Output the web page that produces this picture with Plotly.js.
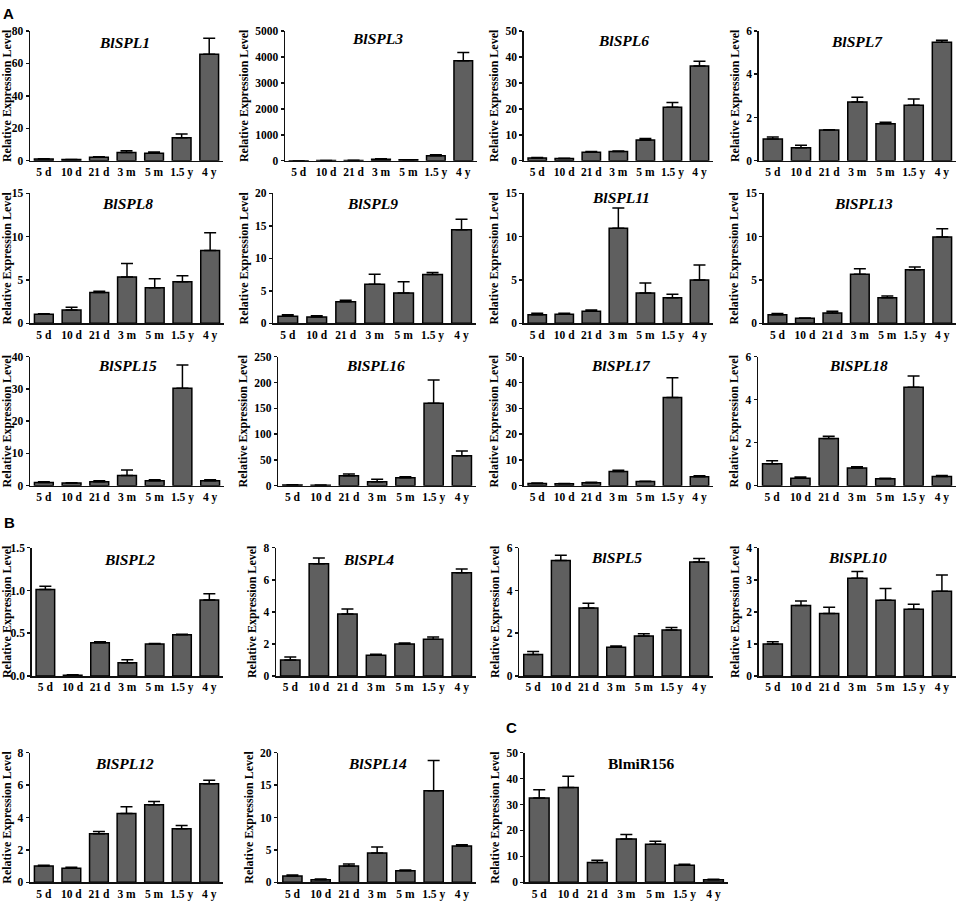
<!DOCTYPE html>
<html>
<head>
<meta charset="utf-8">
<script src="https://cdn.plot.ly/plotly-3.0.1.min.js"></script>
<style>html,body{margin:0;padding:0;background:#fff}#chart{width:964px;height:901px}</style>
</head>
<body>
<div id="chart"></div>
<script>
// ---------- DATA ----------
const categories = ["5 d", "10 d", "21 d", "3 m", "5 m", "1.5 y", "4 y"];

const BlSPL1 = [1.0, 0.7, 2.1, 5.1, 4.6, 14.2, 65.6];
const BlSPL1_err = [0.2, 0.1, 0.3, 1.0, 0.8, 2.3, 9.9];
const BlSPL3 = [1, 5, 10, 60, 35, 193, 3850];
const BlSPL3_err = [0.5, 2, 3, 12, 6, 40, 320];
const BlSPL6 = [1.0, 0.8, 3.3, 3.5, 8.0, 20.6, 36.5];
const BlSPL6_err = [0.2, 0.1, 0.2, 0.2, 0.6, 1.8, 1.8];
const BlSPL7 = [1.0, 0.6, 1.42, 2.72, 1.71, 2.57, 5.48];
const BlSPL7_err = [0.1, 0.11, 0.01, 0.22, 0.07, 0.29, 0.09];
const BlSPL8 = [1.04, 1.54, 3.54, 5.35, 4.1, 4.8, 8.4];
const BlSPL8_err = [0.06, 0.31, 0.16, 1.55, 1.05, 0.7, 2.05];
const BlSPL9 = [1.08, 0.97, 3.33, 6.0, 4.67, 7.49, 14.4];
const BlSPL9_err = [0.25, 0.21, 0.21, 1.54, 1.74, 0.31, 1.6];
const BlSPL11 = [1.0, 1.04, 1.38, 10.96, 3.5, 2.96, 5.0];
const BlSPL11_err = [0.15, 0.11, 0.16, 2.34, 1.15, 0.39, 1.73];
const BlSPL13 = [1.0, 0.58, 1.19, 5.65, 2.96, 6.19, 9.96];
const BlSPL13_err = [0.12, 0.04, 0.19, 0.65, 0.19, 0.31, 0.94];
const BlSPL15 = [1.03, 0.83, 1.24, 3.2, 1.55, 30.2, 1.55];
const BlSPL15_err = [0.2, 0.1, 0.31, 1.66, 0.31, 7.2, 0.31];
const BlSPL16 = [1.3, 1.0, 19.4, 7.8, 15.5, 160, 58.1];
const BlSPL16_err = [0.3, 0.3, 3.2, 4.5, 1.9, 45, 9.1];
const BlSPL17 = [0.9, 0.77, 1.16, 5.5, 1.67, 34.2, 3.47];
const BlSPL17_err = [0.1, 0.1, 0.15, 0.5, 0.1, 7.6, 0.39];
const BlSPL18 = [1.02, 0.35, 2.19, 0.82, 0.32, 4.58, 0.43];
const BlSPL18_err = [0.14, 0.05, 0.11, 0.06, 0.03, 0.52, 0.05];
const BlSPL2 = [1.01, 0.008, 0.39, 0.156, 0.374, 0.483, 0.888];
const BlSPL2_err = [0.04, 0.008, 0.01, 0.034, 0.005, 0.004, 0.074];
const BlSPL4 = [1.0, 7.0, 3.87, 1.29, 2.0, 2.29, 6.44];
const BlSPL4_err = [0.18, 0.36, 0.31, 0.06, 0.06, 0.14, 0.23];
const BlSPL5 = [1.01, 5.4, 3.18, 1.34, 1.87, 2.15, 5.33];
const BlSPL5_err = [0.14, 0.25, 0.22, 0.06, 0.11, 0.12, 0.17];
const BlSPL10 = [1.0, 2.2, 1.95, 3.05, 2.36, 2.08, 2.64];
const BlSPL10_err = [0.07, 0.14, 0.19, 0.21, 0.37, 0.16, 0.51];
const BlSPL12 = [1.01, 0.86, 3.0, 4.24, 4.79, 3.31, 6.09];
const BlSPL12_err = [0.04, 0.07, 0.13, 0.43, 0.19, 0.19, 0.21];
const BlSPL14 = [0.98, 0.41, 2.52, 4.52, 1.8, 14.14, 5.6];
const BlSPL14_err = [0.15, 0.1, 0.31, 0.93, 0.1, 4.66, 0.2];
const BlmiR156 = [32.5, 36.6, 7.6, 16.7, 14.65, 6.56, 1.03];
const BlmiR156_err = [3.2, 4.3, 0.9, 1.7, 1.15, 0.38, 0.1];

// y tick values (and labels)
const ticks1 = [0, 20, 40, 60, 80];
const ticks3 = [0, 1000, 2000, 3000, 4000, 5000];
const ticks6 = [0, 10, 20, 30, 40, 50];
const ticks7 = [0, 2, 4, 6];
const ticks8 = [0, 5, 10, 15];
const ticks9 = [0, 5, 10, 15, 20];
const ticks11 = [0, 5, 10, 15];
const ticks13 = [0, 5, 10, 15];
const ticks15 = [0, 10, 20, 30, 40];
const ticks16 = [0, 50, 100, 150, 200, 250];
const ticks17 = [0, 10, 20, 30, 40, 50];
const ticks18 = [0, 2, 4, 6];
const ticks2 = [0, 0.5, 1.0, 1.5];
const ticks2Text = ["0.0", "0.5", "1.0", "1.5"];
const ticks4 = [0, 2, 4, 6, 8];
const ticks5 = [0, 2, 4, 6];
const ticks10 = [0, 1, 2, 3, 4];
const ticks12 = [0, 2, 4, 6, 8];
const ticks14 = [0, 5, 10, 15, 20];
const ticks156 = [0, 10, 20, 30, 40, 50];

const yTitle = "Relative Expression Level";
const panelLetters = ["A", "B", "C"];

// ---------- PANELS (pixel boxes: left, right, top, bottom; title pos in domain fraction) ----------
const R1 = [31, 160.7], R2 = [193.3, 323.3], R3 = [356.7, 485.7], R4 = [547.7, 676], R5 = [752.7, 882.3];
const panels = [
  {name: "BlSPL1", v: BlSPL1, e: BlSPL1_err, t: ticks1, box: [30, 223, R1], tx: 0.49, ty: 0.91, it: true},
  {name: "BlSPL3", v: BlSPL3, e: BlSPL3_err, t: ticks3, box: [285, 477, R1], tx: 0.48, ty: 0.94, it: true},
  {name: "BlSPL6", v: BlSPL6, e: BlSPL6_err, t: ticks6, box: [523.7, 713, R1], tx: 0.525, ty: 0.93, it: true},
  {name: "BlSPL7", v: BlSPL7, e: BlSPL7_err, t: ticks7, box: [758.7, 956, R1], tx: 0.5, ty: 0.92, it: true},
  {name: "BlSPL8", v: BlSPL8, e: BlSPL8_err, t: ticks8, box: [30, 224, R2], tx: 0.5, ty: 0.925, it: true},
  {name: "BlSPL9", v: BlSPL9, e: BlSPL9_err, t: ticks9, box: [273.3, 476, R2], tx: 0.49, ty: 0.925, it: true},
  {name: "BlSPL11", v: BlSPL11, e: BlSPL11_err, t: ticks11, box: [523.7, 713, R2], tx: 0.515, ty: 0.968, it: true},
  {name: "BlSPL13", v: BlSPL13, e: BlSPL13_err, t: ticks13, box: [763.7, 956, R2], tx: 0.52, ty: 0.92, it: true},
  {name: "BlSPL15", v: BlSPL15, e: BlSPL15_err, t: ticks15, box: [30, 224, R3], tx: 0.5, ty: 0.928, it: true},
  {name: "BlSPL16", v: BlSPL16, e: BlSPL16_err, t: ticks16, box: [278.3, 476, R3], tx: 0.49, ty: 0.928, it: true},
  {name: "BlSPL17", v: BlSPL17, e: BlSPL17_err, t: ticks17, box: [523.7, 713, R3], tx: 0.515, ty: 0.93, it: true},
  {name: "BlSPL18", v: BlSPL18, e: BlSPL18_err, t: ticks18, box: [758, 956, R3], tx: 0.51, ty: 0.93, it: true},
  {name: "BlSPL2", v: BlSPL2, e: BlSPL2_err, t: ticks2, tt: ticks2Text, box: [31.7, 223, R4], tx: 0.51, ty: 0.91, it: true},
  {name: "BlSPL4", v: BlSPL4, e: BlSPL4_err, t: ticks4, box: [276, 476, R4], tx: 0.46, ty: 0.91, it: true},
  {name: "BlSPL5", v: BlSPL5, e: BlSPL5_err, t: ticks5, box: [519.3, 713, R4], tx: 0.5, ty: 0.92, it: true},
  {name: "BlSPL10", v: BlSPL10, e: BlSPL10_err, t: ticks10, box: [758.7, 956, R4], tx: 0.5, ty: 0.92, it: true},
  {name: "BlSPL12", v: BlSPL12, e: BlSPL12_err, t: ticks12, box: [30, 223, R5], tx: 0.49, ty: 0.918, it: true},
  {name: "BlSPL14", v: BlSPL14, e: BlSPL14_err, t: ticks14, box: [278.3, 476, R5], tx: 0.5, ty: 0.918, it: true},
  {name: "BlmiR156", v: BlmiR156, e: BlmiR156_err, t: ticks156, box: [524.7, 728, R5], tx: 0.575, ty: 0.915, it: false}
];

const W = 964, H = 901;
const SERIF = "Liberation Serif";
const data = [];
const layout = {
  width: W, height: H,
  margin: {l: 0, r: 0, t: 0, b: 0},
  paper_bgcolor: "#fff", plot_bgcolor: "rgba(0,0,0,0)",
  font: {family: SERIF, color: "#000"},
  showlegend: false, bargap: 0.32,
  annotations: []
};

panels.forEach((p, i) => {
  const n = i + 1;
  const xa = n === 1 ? "x" : "x" + n;
  const ya = n === 1 ? "y" : "y" + n;
  const [l, r, [top, bot]] = p.box;
  data.push({
    type: "bar", x: categories, y: p.v, xaxis: xa, yaxis: ya,
    marker: {color: "#5f5f5f", line: {color: "#000", width: 1.5}},
    error_y: {type: "data", symmetric: false, array: p.e, arrayminus: p.e.map(() => 0),
              color: "#000", thickness: 1.5, width: 6},
    hoverinfo: "skip"
  });
  layout["xaxis" + (n === 1 ? "" : n)] = {
    domain: [l / W, r / W], anchor: ya, type: "category",
    range: [-0.5, categories.length - 0.5],
    showline: true, linecolor: "#111", linewidth: 1.5, ticks: "", showgrid: false, zeroline: false,
    tickfont: {family: SERIF, size: 11.5, color: "#000", weight: "bold"}
  };
  layout["yaxis" + (n === 1 ? "" : n)] = {
    domain: [1 - bot / H, 1 - top / H], anchor: xa,
    range: [0, p.t[p.t.length - 1]],
    tickvals: p.t, ticktext: p.tt ? p.tt : p.t.map(String),
    showline: true, linecolor: "#111", linewidth: 1.5,
    ticks: "outside", ticklen: 3, tickwidth: 1.5, tickcolor: "#111",
    showgrid: false, zeroline: false,
    tickfont: {family: SERIF, size: 11.5, color: "#000", weight: "bold"},
    title: {text: yTitle, font: {family: SERIF, size: 12, color: "#000", weight: "bold"}, standoff: 4}
  };
  layout.annotations.push({
    text: p.name, xref: xa + " domain", yref: ya + " domain", x: p.tx, y: p.ty,
    xanchor: "center", yanchor: "middle", showarrow: false,
    font: {family: SERIF, size: 15.5, color: "#000", weight: "bold", style: p.it ? "italic" : "normal"}
  });
});

// panel letters
[[8, 14], [9, 522], [511, 727]].forEach((pos, k) => {
  layout.annotations.push({
    text: panelLetters[k], xref: "paper", yref: "paper", x: pos[0] / W, y: 1 - pos[1] / H,
    xanchor: "center", yanchor: "middle", showarrow: false,
    font: {family: "Liberation Sans", size: 15, color: "#000", weight: "bold"}
  });
});

Plotly.newPlot("chart", data, layout, {staticPlot: true, displayModeBar: false});
</script>
</body>
</html>
